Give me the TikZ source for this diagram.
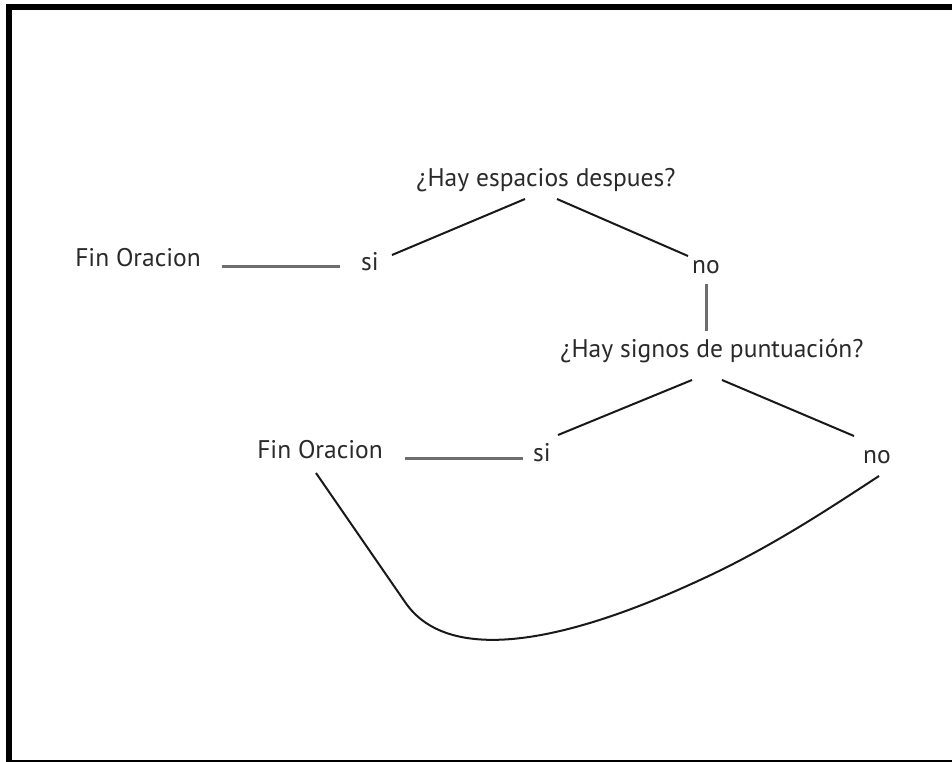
\documentclass[tikz,border=0pt]{standalone}
\usepackage{fontspec}
\setmainfont{PT Sans}
\definecolor{txt}{HTML}{2A2A2A}
\definecolor{gline}{HTML}{6E6E6E}
\tikzset{
  lbl/.style={text=txt, font=\fontsize{25.5}{28}\selectfont, inner sep=0pt, anchor=center},
  blk/.style={draw=black!90, line width=2pt},
  gry/.style={draw=gline, line width=3pt},
}
\begin{document}
\begin{tikzpicture}[x=1pt,y=-1pt]
\useasboundingbox (0,0) rectangle (952,762);
\clip (0,0) rectangle (952,762);
\fill[white] (0,0) rectangle (952,762);
% frame
\draw[line width=6pt] (9,770) -- (9,7.5) -- (970,7.5);
\draw[line width=2pt] (6,761) -- (960,761);

% nodes
\node[lbl] (q1) at (546,180) {¿Hay espacios despues?};
\node[lbl] (si1) at (370,262) {si};
\node[lbl] (no1) at (706,267) {no};
\node[lbl] (fin1) at (138,258) {Fin Oracion};
\node[lbl] (q2) at (712,351) {¿Hay signos de puntuación?};
\node[lbl] (si2) at (542,453) {si};
\node[lbl] (no2) at (877,457) {no};
\node[lbl] (fin2) at (320,450) {Fin Oracion};

% connector end points
\coordinate (q1l) at (525,199);
\coordinate (q1r) at (557,199);
\coordinate (si1t) at (392,255);
\coordinate (no1t) at (688,256);
\coordinate (fin1r) at (222,266);
\coordinate (si1l) at (340,266);
\coordinate (no1b) at (706,284);
\coordinate (q2t) at (706,331);
\coordinate (q2l) at (692,380);
\coordinate (q2r) at (722,380);
\coordinate (si2t) at (558,435);
\coordinate (no2t) at (854,436);
\coordinate (fin2r) at (405,458);
\coordinate (si2l) at (523,458);
\coordinate (fin2b) at (316,473);
\coordinate (no2b) at (879,476);

\draw[blk] (q1l) -- (si1t);
\draw[blk] (q1r) -- (no1t);
\draw[gry] (fin1r) -- (si1l);
\draw[gry] (no1b) -- (q2t);
\draw[blk] (q2l) -- (si2t);
\draw[blk] (q2r) -- (no2t);
\draw[gry] (fin2r) -- (si2l);
\draw[blk] (fin2b) -- (405,602) .. controls (447,664) and (560,645) .. (700,580) .. controls (770,548) and (830,508) .. (no2b);
\end{tikzpicture}
\end{document}
